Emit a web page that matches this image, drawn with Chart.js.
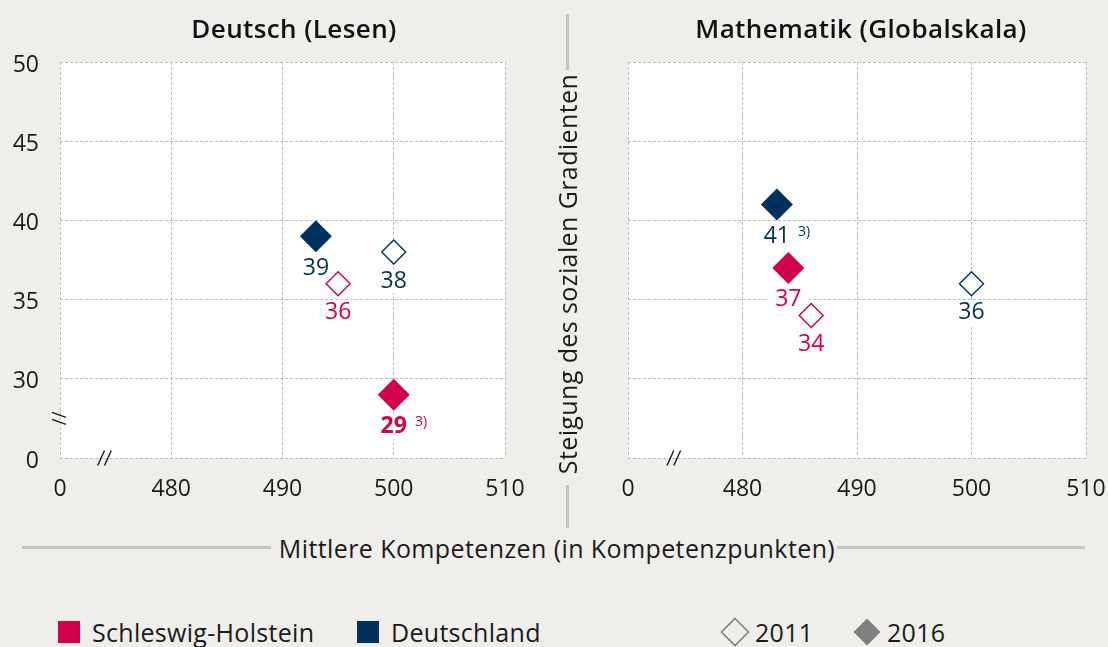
<!DOCTYPE html>
<html>
<head>
<meta charset="utf-8">
<script src="https://cdn.jsdelivr.net/npm/chart.js@4.4.1/dist/chart.umd.min.js"></script>
<style>
  html, body { margin: 0; padding: 0; }
  body { width: 1108px; height: 647px; overflow: hidden; position: relative; background: #EFEEEA; font-family: 'Open Sans', sans-serif; color: #1a1a1a; }
  canvas { position: absolute; top: 0; }
  #c1 { left: 0; }
  #c2 { left: 567px; }
  .ptitle { position: absolute; top: 28px; font-size: 26px; font-weight: 600; letter-spacing: 0.4px; white-space: nowrap; transform: translate(-50%, -50%); color: #111; }
  .vline { position: absolute; left: 566px; width: 3px; background: #C4C4C4; }
  .ytitle { position: absolute; left: 567px; top: 274px; transform: translate(-50%, -50%) rotate(-90deg); font-size: 25px; letter-spacing: 0.4px; white-space: nowrap; color: #1a1a1a; }
  .hline { position: absolute; top: 546px; height: 3px; background: #C4C4C4; }
  .xtitle { position: absolute; left: 557px; top: 548px; transform: translate(-50%, -50%); font-size: 25px; letter-spacing: 0.4px; white-space: nowrap; color: #1a1a1a; }
  .legend { position: absolute; top: 632px; font-size: 25px; letter-spacing: 0.3px; white-space: nowrap; transform: translateY(-50%); display: flex; align-items: center; color: #1a1a1a; }
  .sq { width: 22px; height: 22px; margin-right: 12px; }
</style>
</head>
<body>
<canvas id="c1" width="545" height="520"></canvas>
<canvas id="c2" width="541" height="520"></canvas>
<div class="ptitle" id="t1" style="left:294px"></div>
<div class="ptitle" id="t2" style="left:861px"></div>
<div class="vline" style="top:14px;height:56px"></div>
<div class="ytitle" id="ytitle"></div>
<div class="vline" style="top:485px;height:43px"></div>
<div class="hline" style="left:22px;width:249px"></div>
<div class="hline" style="left:837px;width:248px"></div>
<div class="xtitle" id="xtitle"></div>
<div class="legend" id="lg1" style="left:58px"><div class="sq" id="sq1"></div><span id="lt1"></span></div>
<div class="legend" id="lg2" style="left:357px"><div class="sq" id="sq2"></div><span id="lt2"></span></div>
<div class="legend" id="lg3" style="left:720px"><canvas id="d1" width="30" height="30" style="position:static;margin-right:5px"></canvas><span id="lt3"></span></div>
<div class="legend" id="lg4" style="left:852px"><canvas id="d2" width="30" height="30" style="position:static;margin-right:5px"></canvas><span id="lt4"></span></div>
<script>
// ---------- Texts ----------
const panelTitles = ['Deutsch (Lesen)', 'Mathematik (Globalskala)'];
const xAxisTitle = 'Mittlere Kompetenzen (in Kompetenzpunkten)';
const yAxisTitle = 'Steigung des sozialen Gradienten';
const seriesNames = ['Schleswig-Holstein', 'Deutschland'];
const years = ['2011', '2016'];

// ---------- Tick values and labels (axis broken below 480 / below 30) ----------
const xTickValues = [470, 480, 490, 500, 510];
const xTickLabels = ['0', '480', '490', '500', '510'];
const yTickValues = [25, 30, 35, 40, 45, 50];
const yTickLabels = ['0', '30', '35', '40', '45', '50'];

// ---------- Data: [2011, 2016] ----------
// Deutsch (Lesen)
const lesenX_SH = [495, 500];
const lesenY_SH = [36, 29];
const lesenX_DE = [500, 493];
const lesenY_DE = [38, 39];
const lesenBold = { SH2016: true };
const lesenNotes = { SH2016: '3)' };
// Mathematik (Globalskala)
const mathX_SH = [486, 484];
const mathY_SH = [34, 37];
const mathX_DE = [500, 483];
const mathY_DE = [36, 41];
const mathBold = {};
const mathNotes = { DE2016: '3)' };

// ---------- Styles ----------
const colSH = '#D4004B';
const colDE = '#00305E';
const gridCol = '#BEBEBE';
const FONT = "'Open Sans', sans-serif";

document.getElementById('t1').textContent = panelTitles[0];
document.getElementById('t2').textContent = panelTitles[1];
document.getElementById('xtitle').textContent = xAxisTitle;
document.getElementById('ytitle').textContent = yAxisTitle;
document.getElementById('lt1').textContent = seriesNames[0];
document.getElementById('lt2').textContent = seriesNames[1];
document.getElementById('lt3').textContent = years[0];
document.getElementById('lt4').textContent = years[1];
document.getElementById('sq1').style.background = colSH;
document.getElementById('sq2').style.background = colDE;

function legendDiamond(id, filled) {
  const c = document.getElementById(id).getContext('2d');
  c.beginPath();
  c.moveTo(15, 1.5); c.lineTo(28.5, 15); c.lineTo(15, 28.5); c.lineTo(1.5, 15); c.closePath();
  if (filled) { c.fillStyle = '#808080'; c.fill(); }
  else { c.strokeStyle = '#808080'; c.lineWidth = 1.6; c.stroke(); }
}
legendDiamond('d1', false);
legendDiamond('d2', true);

function makeDatasets(xSH, ySH, xDE, yDE, bold, notes) {
  const mk = (label, x, y, col, filled, key) => ({
    label: label,
    data: [{ x: x, y: y }],
    pointStyle: 'rectRot',
    pointRadius: filled ? 16 : 12,
    pointHoverRadius: filled ? 16 : 12,
    pointBorderWidth: filled ? 0 : 1.4,
    backgroundColor: filled ? col : '#ffffff',
    borderColor: col,
    labelColor: col,
    labelOffset: filled ? 32 : 29,
    boldLabel: !!bold[key],
    footnote: notes[key] || null
  });
  return [
    mk(seriesNames[0] + ' ' + years[0], xSH[0], ySH[0], colSH, false, 'SH2011'),
    mk(seriesNames[1] + ' ' + years[0], xDE[0], yDE[0], colDE, false, 'DE2011'),
    mk(seriesNames[0] + ' ' + years[1], xSH[1], ySH[1], colSH, true, 'SH2016'),
    mk(seriesNames[1] + ' ' + years[1], xDE[1], yDE[1], colDE, true, 'DE2016')
  ];
}

const areaBg = {
  id: 'areaBg',
  beforeDraw(chart) {
    const { ctx, chartArea: a } = chart;
    ctx.save(); ctx.fillStyle = '#ffffff';
    ctx.fillRect(a.left, a.top, a.right - a.left, a.bottom - a.top);
    ctx.restore();
  }
};

function labelFont(bold) { return (bold ? '700 ' : '400 ') + '23px ' + FONT; }

const pointLabels = {
  id: 'pointLabels',
  beforeDatasetsDraw(chart) {
    const ctx = chart.ctx;
    ctx.save();
    chart.data.datasets.forEach((ds, di) => {
      chart.getDatasetMeta(di).data.forEach((pt, i) => {
        ctx.font = labelFont(ds.boldLabel);
        const w = ctx.measureText(String(ds.data[i].y)).width;
        ctx.fillStyle = '#ffffff';
        ctx.fillRect(pt.x - w / 2 - 8, pt.y + ds.labelOffset - 12, w + 16, 24);
      });
    });
    ctx.restore();
  },
  afterDatasetsDraw(chart) {
    const ctx = chart.ctx;
    ctx.save();
    chart.data.datasets.forEach((ds, di) => {
      chart.getDatasetMeta(di).data.forEach((pt, i) => {
        const txt = String(ds.data[i].y);
        ctx.font = labelFont(ds.boldLabel);
        const w = ctx.measureText(txt).width;
        const cy = pt.y + ds.labelOffset;
        ctx.fillStyle = ds.labelColor;
        ctx.textAlign = 'center';
        ctx.textBaseline = 'middle';
        ctx.fillText(txt, pt.x, cy);
        if (ds.footnote) {
          ctx.font = '14px ' + FONT;
          ctx.textAlign = 'left';
          ctx.fillText(ds.footnote, pt.x + w / 2 + 8, cy - 5);
        }
      });
    });
    ctx.restore();
  }
};

const breaks = {
  id: 'breaks',
  afterDraw(chart, args, opts) {
    const { ctx, chartArea: a, scales } = chart;
    ctx.save();
    ctx.strokeStyle = '#1a1a1a';
    ctx.lineWidth = 1.4;
    const bx = scales.x.getPixelForValue(opts.xBreak);
    const by = a.bottom;
    [-3.4, 3.4].forEach(d => {
      ctx.beginPath();
      ctx.moveTo(bx + d - 3.4, by + 7.5);
      ctx.lineTo(bx + d + 3.4, by - 7.5);
      ctx.stroke();
    });
    if (opts.yBreak != null) {
      const yy = scales.y.getPixelForValue(opts.yBreak);
      const xx = a.left - 1;
      [-3.5, 3.5].forEach(d => {
        ctx.beginPath();
        ctx.moveTo(xx - 7, yy + d - 2.5);
        ctx.lineTo(xx + 7, yy + d + 2.5);
        ctx.stroke();
      });
    }
    ctx.restore();
  }
};

function makeChart(id, datasets, showY, yWidth, padRight, yBreak) {
  return new Chart(document.getElementById(id), {
    type: 'scatter',
    data: { datasets: datasets },
    plugins: [areaBg, pointLabels, breaks],
    options: {
      responsive: false,
      animation: false,
      events: [],
      layout: { padding: { top: 62, right: padRight, bottom: 0, left: 0 } },
      plugins: {
        legend: { display: false },
        tooltip: { enabled: false },
        title: { display: false },
        breaks: { xBreak: 474, yBreak: yBreak }
      },
      scales: {
        x: {
          type: 'linear',
          min: xTickValues[0],
          max: xTickValues[xTickValues.length - 1],
          afterBuildTicks: s => { s.ticks = xTickValues.map(v => ({ value: v })); },
          afterFit: s => { s.height = 62; s.paddingLeft = 0; s.paddingRight = 0; },
          grid: { color: gridCol, lineWidth: 1, drawTicks: false },
          border: { display: false, dash: [3, 2] },
          ticks: {
            padding: 18,
            color: '#1a1a1a',
            font: { family: FONT, size: 23 },
            callback: v => xTickLabels[xTickValues.indexOf(v)]
          }
        },
        y: {
          type: 'linear',
          min: yTickValues[0],
          max: yTickValues[yTickValues.length - 1],
          afterBuildTicks: s => { s.ticks = yTickValues.map(v => ({ value: v })); },
          afterFit: s => { s.width = yWidth; s.paddingTop = 0; s.paddingBottom = 0; },
          grid: { color: gridCol, lineWidth: 1, drawTicks: false },
          border: { display: false, dash: [3, 2] },
          ticks: {
            display: showY,
            padding: 21,
            labelOffset: 3,
            color: '#1a1a1a',
            font: { family: FONT, size: 23 },
            callback: v => yTickLabels[yTickValues.indexOf(v)]
          }
        }
      }
    }
  });
}

makeChart('c1', makeDatasets(lesenX_SH, lesenY_SH, lesenX_DE, lesenY_DE, lesenBold, lesenNotes), true, 60, 40, 27.5);
makeChart('c2', makeDatasets(mathX_SH, mathY_SH, mathX_DE, mathY_DE, mathBold, mathNotes), false, 61, 22, null);
</script>
</body>
</html>
